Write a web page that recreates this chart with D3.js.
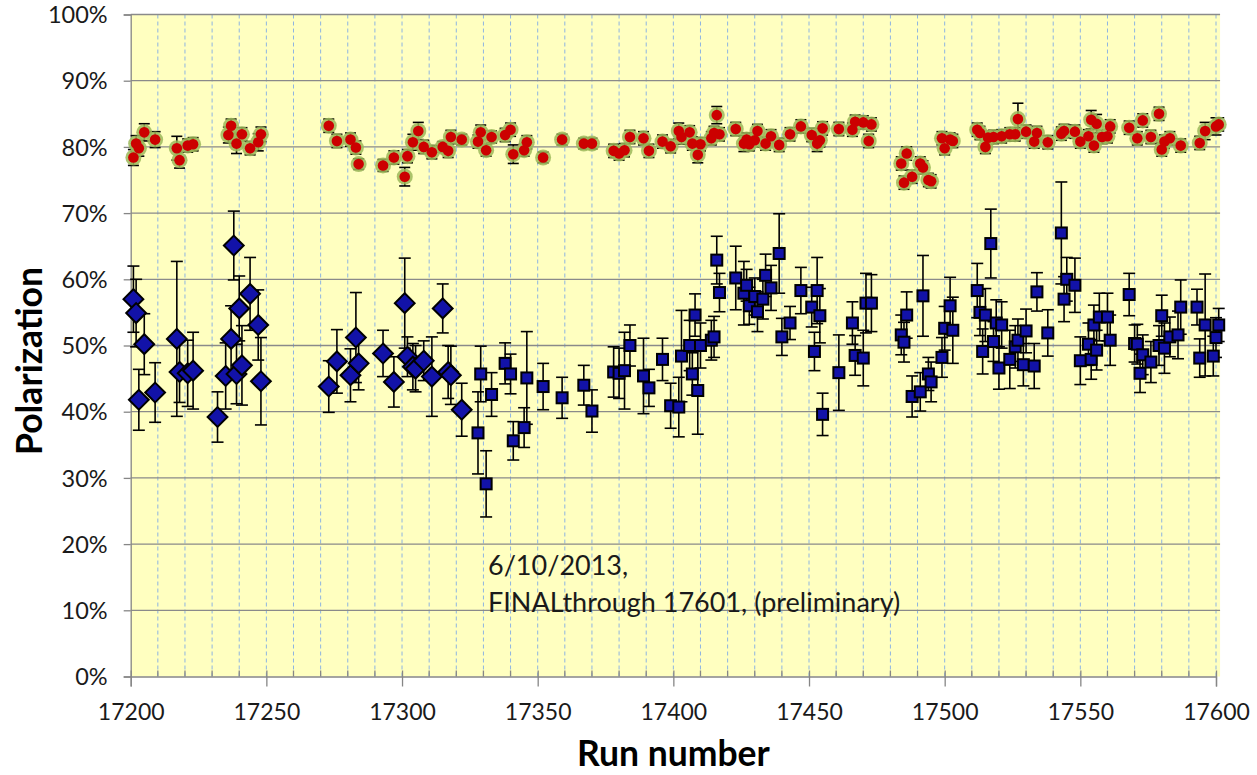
<!DOCTYPE html>
<html>
<head>
<meta charset="utf-8">
<script src="https://cdn.jsdelivr.net/npm/d3@7"></script>
<style>
  body { margin: 0; background: #fff; }
  text { font-family: Lato, "Open Sans", sans-serif; }
</style>
</head>
<body>
<div id="chart"></div>
<script>
// [run, polarization %, error %]
var hjetRuns = [
    [17201, 78.4, 1.2], [17202, 80.5, 1.2], [17203, 79.8, 1.2], [17205, 82.2, 1.3], [17209, 81.1, 1.2],
    [17217, 79.8, 1.8], [17218, 78.0, 1.2], [17221, 80.2, 1.0], [17223, 80.4, 1.0], [17236, 81.8, 1.2],
    [17237, 83.2, 1.0], [17239, 80.5, 1.5], [17241, 81.9, 1.0], [17244, 79.8, 1.0], [17247, 80.7, 1.3],
    [17248, 81.9, 1.1], [17273, 83.2, 1.0], [17276, 80.9, 1.0], [17281, 81.1, 1.0], [17283, 79.9, 1.0],
    [17284, 77.4, 0.8], [17293, 77.2, 0.9], [17297, 78.4, 1.0], [17301, 75.5, 1.4], [17302, 78.6, 1.0],
    [17304, 80.7, 1.2], [17306, 82.4, 1.3], [17308, 80.0, 1.0], [17311, 79.2, 1.0], [17315, 80.0, 0.8],
    [17317, 79.4, 1.0], [17318, 81.5, 1.0], [17322, 81.1, 0.8], [17328, 80.8, 1.0], [17329, 82.2, 1.1],
    [17331, 79.5, 0.9], [17333, 81.5, 0.9], [17338, 81.8, 1.0], [17340, 82.6, 1.0], [17341, 78.9, 1.4],
    [17345, 79.5, 0.9], [17346, 80.7, 1.0], [17352, 78.4, 0.8], [17359, 81.1, 0.8], [17367, 80.5, 0.8],
    [17370, 80.5, 0.8], [17378, 79.4, 1.0], [17380, 79.0, 1.0], [17382, 79.5, 1.0], [17384, 81.5, 1.0],
    [17389, 81.3, 1.0], [17391, 79.4, 1.0], [17396, 80.8, 1.0], [17399, 80.1, 1.0], [17402, 82.4, 1.2],
    [17403, 81.5, 1.1], [17406, 82.2, 1.0], [17407, 80.5, 1.0], [17409, 78.8, 1.2], [17410, 80.4, 1.0],
    [17414, 81.3, 1.0], [17415, 82.1, 1.0], [17416, 84.8, 1.3], [17417, 81.9, 1.0], [17423, 82.7, 1.0],
    [17426, 80.5, 1.2], [17427, 81.1, 1.0], [17428, 80.4, 1.0], [17430, 81.0, 1.0], [17431, 82.4, 1.0],
    [17434, 80.5, 1.0], [17436, 81.6, 1.0], [17439, 80.3, 1.0], [17443, 81.9, 1.0], [17447, 83.1, 1.0],
    [17451, 81.8, 1.0], [17453, 80.5, 1.2], [17454, 81.0, 1.0], [17455, 82.8, 1.0], [17461, 82.7, 1.0],
    [17466, 82.6, 1.0], [17467, 83.8, 1.0], [17470, 83.7, 1.0], [17472, 80.9, 1.0], [17473, 83.4, 1.0],
    [17484, 77.5, 1.0], [17485, 74.6, 1.0], [17486, 79.0, 1.0], [17488, 75.5, 1.0], [17491, 77.5, 1.0],
    [17492, 76.9, 1.0], [17494, 75.0, 1.0], [17495, 74.8, 1.0], [17499, 81.3, 1.0], [17500, 79.8, 1.0],
    [17502, 81.1, 1.0], [17503, 80.9, 1.0], [17512, 82.6, 1.0], [17513, 82.1, 1.0], [17515, 80.0, 1.0],
    [17516, 81.4, 1.0], [17518, 81.5, 1.0], [17521, 81.6, 1.0], [17524, 81.9, 1.0], [17526, 81.9, 1.0],
    [17527, 84.2, 2.4], [17530, 82.3, 1.0], [17533, 80.8, 1.0], [17534, 82.1, 1.0], [17538, 80.7, 1.0],
    [17543, 82.0, 1.0], [17544, 82.4, 1.0], [17548, 82.3, 1.0], [17550, 80.8, 1.0], [17553, 81.6, 1.0],
    [17554, 84.1, 1.4], [17555, 80.2, 1.0], [17556, 83.5, 1.4], [17558, 81.5, 1.0], [17560, 81.6, 1.0],
    [17561, 83.1, 1.0], [17568, 82.9, 1.0], [17571, 81.3, 1.0], [17573, 84.0, 1.0], [17576, 81.5, 1.0],
    [17579, 85.0, 1.0], [17580, 79.6, 1.0], [17581, 80.8, 1.0], [17583, 81.3, 1.0], [17587, 80.2, 1.0],
    [17594, 80.6, 1.0], [17596, 82.4, 1.3], [17600, 83.1, 1.3], [17601, 83.4, 1.0]
];

var diamondRuns = [
    [17201, 57.0, 5.0], [17202, 54.9, 5.1], [17203, 41.8, 4.6], [17205, 50.2, 4.6], [17209, 42.9, 4.5],
    [17217, 51.0, 11.7], [17218, 46.0, 4.6], [17221, 45.8, 5.0], [17223, 46.2, 5.8], [17232, 39.2, 3.8],
    [17235, 45.4, 5.0], [17237, 51.0, 5.0], [17238, 65.1, 5.2], [17239, 45.7, 4.5], [17240, 55.6, 4.9],
    [17241, 47.0, 6.0], [17244, 57.8, 5.5], [17247, 53.1, 5.3], [17248, 44.6, 6.6], [17273, 43.8, 3.9],
    [17276, 47.6, 4.8], [17281, 45.5, 4.0], [17283, 51.2, 6.8], [17284, 47.3, 4.0], [17293, 48.8, 3.5],
    [17297, 44.5, 3.8], [17301, 56.4, 6.8], [17302, 48.3, 3.0], [17304, 46.8, 3.5], [17305, 46.5, 3.5],
    [17308, 47.7, 3.0], [17311, 45.3, 6.0], [17315, 55.6, 3.7], [17317, 46.0, 4.0], [17318, 45.5, 4.4],
    [17322, 40.3, 4.0]
];

var squareRuns = [
    [17328, 36.8, 6.2], [17329, 45.7, 4.2], [17331, 29.1, 5.0], [17333, 42.6, 3.3], [17338, 47.3, 3.1],
    [17340, 45.7, 3.0], [17341, 35.6, 2.9], [17345, 37.6, 3.0], [17346, 45.1, 7.0], [17352, 43.8, 3.5],
    [17359, 42.1, 3.1], [17367, 44.0, 3.0], [17370, 40.1, 3.2], [17378, 46.0, 3.8], [17380, 45.8, 3.8],
    [17382, 46.2, 5.8], [17384, 50.0, 3.1], [17389, 45.4, 5.7], [17391, 43.6, 2.8], [17396, 47.9, 3.2],
    [17399, 40.9, 3.4], [17402, 40.7, 4.5], [17403, 48.4, 6.9], [17406, 50.0, 3.8], [17407, 45.7, 3.2],
    [17408, 54.6, 3.2], [17409, 43.2, 6.6], [17410, 50.0, 3.4], [17414, 50.8, 3.0], [17415, 51.3, 3.1],
    [17416, 62.9, 3.6], [17417, 58.0, 2.9], [17423, 60.2, 4.8], [17426, 57.9, 4.8], [17427, 59.1, 2.4],
    [17428, 56.0, 2.8], [17430, 57.4, 2.8], [17431, 55.1, 3.0], [17433, 57.0, 3.0], [17434, 60.6, 3.2],
    [17436, 58.7, 3.4], [17439, 63.9, 6.0], [17440, 51.3, 2.8], [17443, 53.4, 2.5], [17447, 58.3, 3.5],
    [17451, 55.8, 3.0], [17452, 49.1, 2.9], [17453, 58.3, 5.0], [17454, 54.5, 4.1], [17455, 39.6, 3.2],
    [17461, 45.9, 5.7], [17466, 53.4, 3.2], [17467, 48.5, 3.0], [17470, 48.1, 4.2], [17471, 56.4, 4.5],
    [17473, 56.4, 4.3], [17484, 51.6, 3.0], [17485, 50.5, 3.0], [17486, 54.6, 3.5], [17488, 42.3, 3.1],
    [17491, 43.0, 2.9], [17492, 57.5, 6.1], [17494, 45.7, 2.5], [17495, 44.5, 3.0], [17499, 48.2, 3.0],
    [17500, 52.6, 3.3], [17502, 56.0, 4.3], [17503, 52.3, 5.0], [17512, 58.3, 4.1], [17513, 55.0, 3.5],
    [17514, 49.1, 3.4], [17515, 54.6, 4.0], [17517, 65.4, 5.2], [17518, 50.6, 3.0], [17519, 53.4, 3.5],
    [17520, 46.6, 3.2], [17521, 53.1, 3.5], [17524, 47.9, 4.4], [17526, 49.8, 3.2], [17527, 50.8, 3.2],
    [17529, 47.1, 3.2], [17530, 52.2, 3.3], [17533, 46.9, 3.4], [17534, 58.1, 2.9], [17538, 51.9, 3.5],
    [17543, 67.0, 7.7], [17544, 57.0, 3.4], [17545, 60.0, 3.3], [17548, 59.1, 4.1], [17550, 47.7, 3.6],
    [17553, 50.2, 3.2], [17554, 47.9, 3.0], [17555, 53.1, 3.0], [17556, 49.3, 3.0], [17557, 54.3, 3.6],
    [17560, 54.3, 3.6], [17561, 50.8, 3.8], [17568, 57.7, 3.2], [17570, 50.3, 2.8], [17571, 50.2, 3.0],
    [17572, 45.8, 2.9], [17573, 48.6, 3.0], [17576, 47.5, 3.1], [17579, 50.0, 3.0], [17580, 54.5, 3.1],
    [17581, 49.6, 3.8], [17583, 51.3, 3.0], [17586, 51.6, 3.6], [17587, 55.8, 4.1], [17593, 55.8, 2.7],
    [17594, 48.1, 2.9], [17596, 53.1, 7.7], [17599, 48.4, 3.0], [17600, 51.2, 3.0], [17601, 53.1, 2.5]
];

var yTicks = [0, 10, 20, 30, 40, 50, 60, 70, 80, 90, 100];
var xTicks = [17200, 17250, 17300, 17350, 17400, 17450, 17500, 17550, 17600];
var noteLines = ["6/10/2013,", "FINALthrough 17601, (preliminary)"];

(function () {
    var width = 1257, height = 775;
    var left = 130.7, top = 14.5, bottom = 676.5;

    var x = d3.scaleLinear().domain([17200, 17600]).range([left, 1216]);
    var y = d3.scaleLinear().domain([0, 100]).range([bottom, top]);

    var svg = d3.select("#chart")
        .append("svg")
        .attr("width", width)
        .attr("height", height);

    // plot area
    svg.append("rect")
        .attr("x", left)
        .attr("y", top)
        .attr("width", x(17601.5) - left)
        .attr("height", bottom - top)
        .attr("fill", "#ffffc0");

    // minor vertical dashed grid, every 10 runs
    var minor = d3.range(17210, 17601, 10);
    svg.append("g")
        .selectAll("line")
        .data(minor)
        .join("line")
        .attr("x1", d => x(d)).attr("x2", d => x(d))
        .attr("y1", top).attr("y2", bottom)
        .attr("stroke", "#8db4e2")
        .attr("stroke-width", 1)
        .attr("stroke-dasharray", "4,3");

    // horizontal grid
    svg.append("g")
        .selectAll("line")
        .data(yTicks.filter(d => d > 0))
        .join("line")
        .attr("x1", left).attr("x2", x(17601.5))
        .attr("y1", d => y(d)).attr("y2", d => y(d))
        .attr("stroke", "#8a8a8a")
        .attr("stroke-width", 1.3);

    // y axis
    var yAxis = svg.append("g")
        .attr("transform", "translate(" + left + ",0)")
        .call(d3.axisLeft(y).tickValues(yTicks).tickSize(7).tickPadding(16).tickFormat(d => d + "%"));
    yAxis.select(".domain").attr("stroke", "#868686").attr("stroke-width", 1.3);
    yAxis.selectAll(".tick line").attr("stroke", "#868686").attr("stroke-width", 1.3);
    yAxis.selectAll(".tick text")
        .attr("font-family", "Lato")
        .attr("font-size", 23.5)
        .attr("fill", "#1a1a1a")
        .attr("dy", "0.35em");

    // x axis
    var xAxis = svg.append("g")
        .attr("transform", "translate(0," + bottom + ")")
        .call(d3.axisBottom(x).tickValues(xTicks).tickSize(10).tickPadding(17).tickFormat(d3.format("d")));
    xAxis.select(".domain").attr("stroke", "#868686").attr("stroke-width", 1.3);
    xAxis.selectAll(".tick line").attr("stroke", "#868686").attr("stroke-width", 1.3).attr("y1", -6);
    xAxis.selectAll(".tick text")
        .attr("font-family", "Lato")
        .attr("font-size", 23)
        .attr("fill", "#1a1a1a");

    // minor tick marks on x axis
    svg.append("g")
        .selectAll("line")
        .data(minor.filter(d => d % 50 != 0))
        .join("line")
        .attr("x1", d => x(d)).attr("x2", d => x(d))
        .attr("y1", bottom - 6).attr("y2", bottom)
        .attr("stroke", "#868686")
        .attr("stroke-width", 1.3);

    function errorBars(g, data, cap) {
        var eb = g.append("g").attr("stroke", "#000").attr("stroke-width", 1.6);
        eb.selectAll("line.v")
            .data(data)
            .join("line")
            .attr("class", "v")
            .attr("x1", d => x(d[0])).attr("x2", d => x(d[0]))
            .attr("y1", d => y(d[1] + d[2])).attr("y2", d => y(d[1] - d[2]));
        eb.selectAll("line.t")
            .data(data)
            .join("line")
            .attr("class", "t")
            .attr("x1", d => x(d[0]) - cap).attr("x2", d => x(d[0]) + cap)
            .attr("y1", d => y(d[1] + d[2])).attr("y2", d => y(d[1] + d[2]));
        eb.selectAll("line.b")
            .data(data)
            .join("line")
            .attr("class", "b")
            .attr("x1", d => x(d[0]) - cap).attr("x2", d => x(d[0]) + cap)
            .attr("y1", d => y(d[1] - d[2])).attr("y2", d => y(d[1] - d[2]));
    }

    // diamonds
    var gd = svg.append("g");
    errorBars(gd, diamondRuns, 6);
    gd.selectAll("path")
        .data(diamondRuns)
        .join("path")
        .attr("d", d3.symbol().type(d3.symbolDiamond2).size(250))
        .attr("transform", d => "translate(" + x(d[0]) + "," + y(d[1]) + ")")
        .attr("fill", "#1212a8")
        .attr("stroke", "#000")
        .attr("stroke-width", 2);

    // squares
    var gs = svg.append("g");
    errorBars(gs, squareRuns, 6);
    gs.selectAll("rect")
        .data(squareRuns)
        .join("rect")
        .attr("x", d => x(d[0]) - 5.5)
        .attr("y", d => y(d[1]) - 5.5)
        .attr("width", 11)
        .attr("height", 11)
        .attr("fill", "#1212a8")
        .attr("stroke", "#000")
        .attr("stroke-width", 2);

    // red circles with green glow
    var gc = svg.append("g");
    errorBars(gc, hjetRuns, 5.5);
    gc.selectAll("circle.halo")
        .data(hjetRuns)
        .join("circle")
        .attr("class", "halo")
        .attr("cx", d => x(d[0]))
        .attr("cy", d => y(d[1]))
        .attr("r", 8)
        .attr("fill", "#9cb95a")
        .attr("opacity", 0.85);
    gc.selectAll("circle.dot")
        .data(hjetRuns)
        .join("circle")
        .attr("class", "dot")
        .attr("cx", d => x(d[0]))
        .attr("cy", d => y(d[1]))
        .attr("r", 5.3)
        .attr("fill", "#cc0000");

    // annotation
    svg.append("g")
        .selectAll("text")
        .data(noteLines)
        .join("text")
        .attr("x", 488)
        .attr("y", (d, i) => 575 + i * 37)
        .attr("font-family", "Lato")
        .attr("font-size", 27)
        .attr("fill", "#1a1a1a")
        .text(d => d);

    // axis titles
    svg.append("text")
        .attr("x", (left + 1216) / 2)
        .attr("y", 766)
        .attr("text-anchor", "middle")
        .attr("font-family", "Lato")
        .attr("font-weight", "bold")
        .attr("font-size", 35.5)
        .attr("fill", "#000")
        .text("Run number");

    svg.append("text")
        .attr("transform", "translate(42,361) rotate(-90)")
        .attr("text-anchor", "middle")
        .attr("font-family", "Lato")
        .attr("font-weight", "bold")
        .attr("font-size", 35.5)
        .attr("fill", "#000")
        .text("Polarization");
})();
</script>
</body>
</html>
